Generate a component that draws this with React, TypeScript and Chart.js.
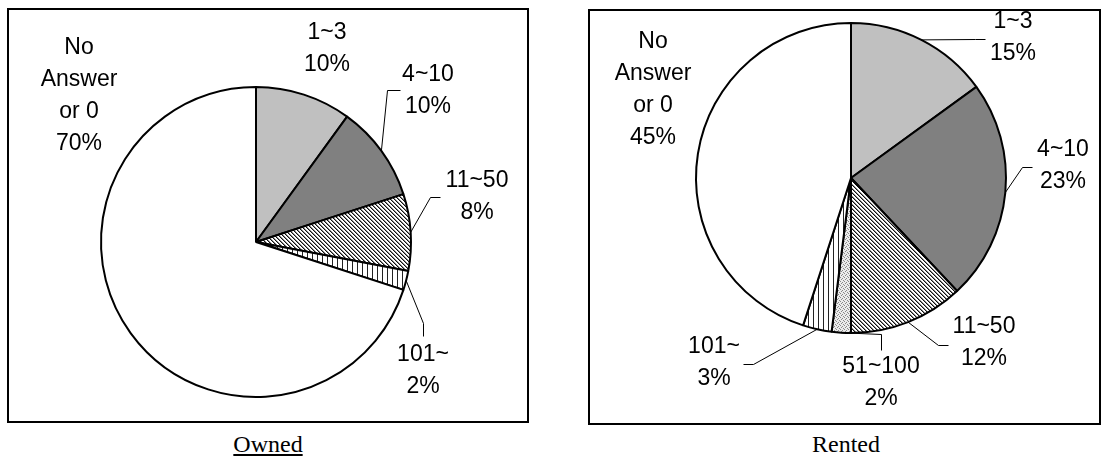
import React, { useEffect, useRef } from "react";
import { Chart, registerables } from "chart.js";

Chart.register(...registerables);

// ---- data ----
const categories = ["1~3", "4~10", "11~50", "51~100", "101~", "No Answer or 0"];
const categoryLines = [["1~3"], ["4~10"], ["11~50"], ["51~100"], ["101~"], ["No", "Answer", "or 0"]];
const ownedValues = [10, 10, 8, 0, 2, 70];
const rentedValues = [15, 23, 12, 2, 3, 45];
const chartTitles = ["Owned", "Rented"];

// ---- label placements (page coordinates) ----
type Placement = { x: number; y: number; leader?: number[][] } | null;
const ownedPlacements: Placement[] = [
  { x: 327, y: 33 },
  { x: 428, y: 75, leader: [[387, 90], [400, 90]] },
  { x: 477, y: 181, leader: [[430, 197], [440, 197]] },
  null,
  { x: 423, y: 355, leader: [[423, 323], [423, 336]] },
  { x: 79, y: 48 },
];
const rentedPlacements: Placement[] = [
  { x: 1013, y: 22, leader: [[975, 39], [985, 39]] },
  { x: 1063, y: 150, leader: [[1022, 167], [1032, 167]] },
  { x: 984, y: 327, leader: [[938, 345], [948, 345]] },
  { x: 881, y: 367, leader: [[881, 334], [881, 350]] },
  { x: 714, y: 347, leader: [[753, 364], [743, 364]] },
  { x: 653, y: 42 },
];

const LINE_H = 32;
const LABEL_FONT = "23px 'Liberation Sans', Arial, sans-serif";

function makePattern(kind: string): CanvasPattern | string {
  const c = document.createElement("canvas");
  const g = c.getContext("2d")!;
  if (kind === "diag") {
    c.width = 4; c.height = 4;
    g.fillStyle = "#fff"; g.fillRect(0, 0, 4, 4);
    for (let i = 0; i < 4; i++) {
      g.fillStyle = "#111"; g.fillRect(i, i, 1, 1);
      g.fillStyle = "#8a8a8a"; g.fillRect((i + 1) % 4, i, 1, 1);
    }
  } else if (kind === "vert") {
    c.width = 5; c.height = 1;
    g.fillStyle = "#fff"; g.fillRect(0, 0, 5, 1);
    g.fillStyle = "#222"; g.fillRect(0, 0, 1, 1);
  } else {
    c.width = 4; c.height = 4;
    g.fillStyle = "#ececec"; g.fillRect(0, 0, 4, 4);
    g.fillStyle = "#8a8a8a";
    g.fillRect(0, 0, 1, 1); g.fillRect(2, 1, 1, 1); g.fillRect(1, 2, 1, 1); g.fillRect(3, 3, 1, 1);
  }
  return g.createPattern(c, "repeat") || "#ccc";
}

const labelPlugin = {
  id: "pieLabels",
  afterDraw(chart: any, _args: any, opts: any) {
    const ctx = chart.ctx as CanvasRenderingContext2D;
    const meta = chart.getDatasetMeta(0);
    const values: number[] = chart.data.datasets[0].data;
    const { placements, ox, oy } = opts;
    ctx.save();
    ctx.font = LABEL_FONT;
    ctx.fillStyle = "#000";
    ctx.strokeStyle = "#000";
    ctx.textAlign = "center";
    ctx.textBaseline = "middle";
    meta.data.forEach((arc: any, i: number) => {
      const p = placements[i];
      if (!p || values[i] === 0) return;
      const { x, y, startAngle, endAngle, outerRadius } = arc.getProps(
        ["x", "y", "startAngle", "endAngle", "outerRadius"], true);
      if (p.leader) {
        const mid = (startAngle + endAngle) / 2;
        ctx.lineWidth = 1;
        ctx.beginPath();
        ctx.moveTo(x + Math.cos(mid) * outerRadius, y + Math.sin(mid) * outerRadius);
        p.leader.forEach((pt: number[]) => ctx.lineTo(pt[0] - ox + 0.5, pt[1] - oy + 0.5));
        ctx.stroke();
      }
      const lines = [...categoryLines[i], values[i] + "%"];
      lines.forEach((t, k) => ctx.fillText(t, p.x - ox, p.y - oy + k * LINE_H));
    });
    ctx.lineWidth = 2;
    ctx.strokeRect(1, 1, chart.width - 2, chart.height - 2);
    ctx.restore();
  },
};

type BoxProps = {
  values: number[];
  placements: Placement[];
  left: number; top: number; width: number; height: number;
  padding: { left: number; right: number; top: number; bottom: number };
};

function PieBox({ values, placements, left, top, width, height, padding }: BoxProps) {
  const ref = useRef<HTMLCanvasElement>(null);
  useEffect(() => {
    const fills = ["#c0c0c0", "#808080", makePattern("diag"), makePattern("dots"), makePattern("vert"), "#ffffff"];
    const chart = new Chart(ref.current!, {
      type: "pie",
      data: {
        labels: categories,
        datasets: [{ data: values, backgroundColor: fills as any, borderColor: "#000", borderWidth: 2 }],
      },
      options: {
        animation: false,
        responsive: false,
        events: [],
        layout: { padding },
        plugins: {
          legend: { display: false },
          tooltip: { enabled: false },
          pieLabels: { placements, ox: left, oy: top },
        } as any,
      },
      plugins: [labelPlugin],
    });
    return () => chart.destroy();
  }, []);
  return (
    <canvas ref={ref} width={width} height={height}
      style={{ position: "absolute", left, top, width, height }} />
  );
}

export default function App() {
  const captionStyle: React.CSSProperties = {
    position: "absolute", width: 200, textAlign: "center",
    fontFamily: "'Liberation Serif', 'Times New Roman', serif", fontSize: 24, lineHeight: "26px",
  };
  return (
    <div style={{ position: "absolute", left: 0, top: 0, width: 1104, height: 464, background: "#fff" }}>
      <PieBox values={ownedValues} placements={ownedPlacements}
        left={7} top={8} width={522} height={415}
        padding={{ left: 93, right: 117, top: 78, bottom: 25 }} />
      <PieBox values={rentedValues} placements={rentedPlacements}
        left={588} top={9} width={513} height={416}
        padding={{ left: 107, right: 94, top: 13, bottom: 91 }} />
      <div style={{ ...captionStyle, left: 168, top: 431 }}>
        <span style={{ textDecoration: "underline" }}>{chartTitles[0]}</span>
      </div>
      <div style={{ ...captionStyle, left: 746, top: 431 }}>{chartTitles[1]}</div>
    </div>
  );
}
